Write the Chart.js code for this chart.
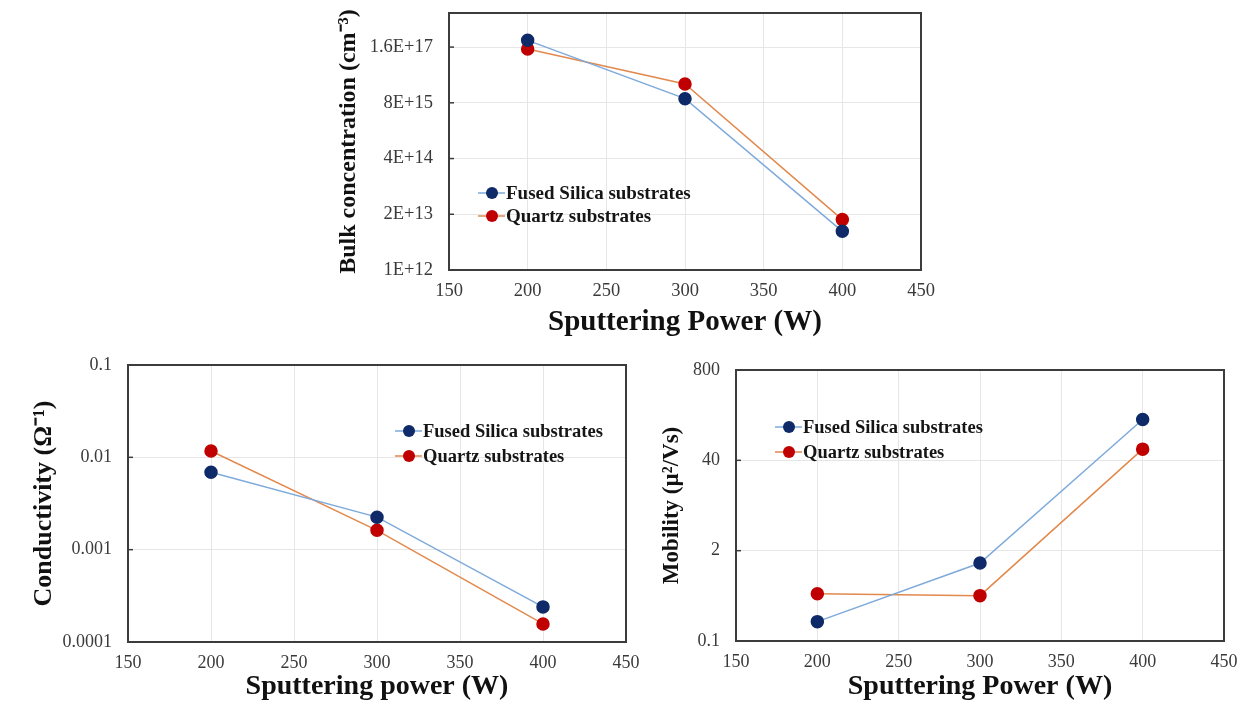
<!DOCTYPE html>
<html>
<head>
<meta charset="utf-8">
<script src="https://cdn.jsdelivr.net/npm/chart.js@4.4.1/dist/chart.umd.min.js"></script>
<style>
  body { margin: 0; background: #fff; width: 1248px; height: 702px; overflow: hidden; position: relative; }
  canvas { position: absolute; }
</style>
</head>
<body>
<canvas id="bulkChart" width="610" height="345" style="left:330px;top:0px"></canvas>
<canvas id="condChart" width="640" height="352" style="left:0px;top:350px"></canvas>
<canvas id="mobChart" width="608" height="352" style="left:640px;top:350px"></canvas>
<script>
// sputtering power (W)
const power = [200, 300, 400];
const powerTicks = [150, 200, 250, 300, 350, 400, 450];

// bulk concentration (cm^-3)
const bulkFused = [2.3e17, 1.0e16, 8e12];
const bulkQuartz = [1.45e17, 2.2e16, 1.5e13];
const bulkTicks = [1e12, 2e13, 4e14, 8e15, 1.6e17];
const bulkTickLabels = ['1E+12', '2E+13', '4E+14', '8E+15', '1.6E+17'];

// conductivity
const condFused = [0.0069, 0.00225, 0.00024];
const condQuartz = [0.0117, 0.00162, 0.000157];
const condTicks = [0.0001, 0.001, 0.01, 0.1];
const condTickLabels = ['0.0001', '0.001', '0.01', '0.1'];

// mobility
const mobFused = [0.19, 1.33, 155];
const mobQuartz = [0.48, 0.45, 58];
const mobTicks = [0.1, 2, 40, 800];
const mobTickLabels = ['0.1', '2', '40', '800'];

const serif = "'Liberation Serif', 'Times New Roman', serif";

// box round the plot + small inward ticks on y
const framePlugin = {
  id: 'frame',
  beforeDatasetsDraw(chart) {
    const { ctx, chartArea: a } = chart;
    const ys = chart.scales.y;
    ctx.save();
    ctx.strokeStyle = '#3c3c3c';
    ctx.lineWidth = 2;
    ctx.strokeRect(a.left, a.top, a.right - a.left, a.bottom - a.top);
    ctx.lineWidth = 1.5;
    ys.ticks.forEach(t => {
      const py = ys.getPixelForValue(t.value);
      ctx.beginPath();
      ctx.moveTo(a.left, py);
      ctx.lineTo(a.left + 5, py);
      ctx.stroke();
    });
    ctx.restore();
  }
};

// excel style legend inside the plot area
const insideLegend = {
  id: 'insideLegend',
  afterDatasetsDraw(chart, args, opts) {
    const { ctx, chartArea: a } = chart;
    chart.data.datasets.forEach((ds, i) => {
      const cx = a.left + opts.x;
      const cy = a.top + opts.y + i * opts.gap;
      ctx.save();
      ctx.strokeStyle = ds.borderColor;
      ctx.lineWidth = ds.borderWidth;
      ctx.beginPath();
      ctx.moveTo(cx - 14, cy);
      ctx.lineTo(cx + 13, cy);
      ctx.stroke();
      ctx.fillStyle = ds.pointBackgroundColor;
      ctx.beginPath();
      ctx.arc(cx, cy, ds.pointRadius, 0, Math.PI * 2);
      ctx.fill();
      ctx.fillStyle = '#151515';
      ctx.font = 'bold ' + opts.size + 'px ' + serif;
      ctx.textBaseline = 'middle';
      ctx.fillText(ds.label, cx + 14, cy + 1);
      ctx.restore();
    });
  }
};

function series(label, ys, line, dot) {
  return {
    label: label,
    data: power.map((p, i) => ({ x: p, y: ys[i] })),
    borderColor: line,
    backgroundColor: dot,
    pointBackgroundColor: dot,
    pointBorderColor: dot,
    pointRadius: 6,
    borderWidth: 1.5,
    tension: 0
  };
}

function noPad(sc) {
  sc.paddingTop = 0;
  sc.paddingBottom = 0;
  sc.paddingLeft = 0;
  sc.paddingRight = 0;
}

function makeChart(id, s) {
  return new Chart(document.getElementById(id), {
    type: 'line',
    data: {
      datasets: [
        series('Fused Silica substrates', s.fused, '#7eaadb', '#0f2a68'),
        series('Quartz substrates', s.quartz, '#e2894e', '#c00000')
      ]
    },
    options: {
      responsive: false,
      animation: false,
      devicePixelRatio: 1,
      layout: { padding: s.pad },
      plugins: {
        legend: { display: false },
        tooltip: { enabled: false },
        insideLegend: s.legend
      },
      scales: {
        x: {
          type: 'linear',
          min: 150,
          max: 450,
          afterBuildTicks: sc => { sc.ticks = powerTicks.map(v => ({ value: v })); },
          afterFit: sc => { sc.height = s.xh; noPad(sc); },
          grid: { color: '#e6e6e6', drawTicks: false },
          border: { display: false },
          ticks: { padding: 10, color: '#3a3a3a', font: { family: serif, size: s.tickSize } },
          title: {
            display: true,
            text: s.xTitle,
            color: '#111',
            padding: { top: 0, bottom: s.xTitlePad },
            font: { family: serif, size: s.xTitleSize, weight: 'bold', lineHeight: 1 }
          }
        },
        y: {
          type: 'logarithmic',
          min: s.min,
          max: s.max,
          afterBuildTicks: sc => { sc.ticks = s.ticks.map(v => ({ value: v })); },
          afterFit: sc => { sc.width = s.yw; noPad(sc); },
          grid: { color: '#e6e6e6', drawTicks: false },
          border: { display: false },
          ticks: {
            padding: 16,
            color: '#3a3a3a',
            font: { family: serif, size: s.tickSize },
            callback: (v, i) => s.tickLabels[i]
          },
          title: {
            display: true,
            text: s.yTitle,
            color: '#111',
            padding: { top: s.yTitlePad, bottom: 0 },
            font: { family: serif, size: s.yTitleSize, weight: 'bold', lineHeight: 1 }
          }
        }
      }
    },
    plugins: [framePlugin, insideLegend]
  });
}

makeChart('bulkChart', {
  fused: bulkFused, quartz: bulkQuartz,
  min: 1e12, max: 1e18, ticks: bulkTicks, tickLabels: bulkTickLabels,
  pad: { left: 0, top: 13, right: 19, bottom: 0 },
  yw: 119, xh: 75, tickSize: 18.5,
  xTitle: 'Sputtering Power (W)', xTitleSize: 29, xTitlePad: 8,
  yTitle: 'Bulk concentration (cm\u207B\u00B3)', yTitleSize: 24, yTitlePad: 7,
  legend: { x: 43, y: 180, gap: 23, size: 19 }
});

makeChart('condChart', {
  fused: condFused, quartz: condQuartz,
  min: 0.0001, max: 0.1, ticks: condTicks, tickLabels: condTickLabels,
  pad: { left: 0, top: 15, right: 14, bottom: 0 },
  yw: 128, xh: 60, tickSize: 18,
  xTitle: 'Sputtering power (W)', xTitleSize: 28, xTitlePad: 1,
  yTitle: 'Conductivity (\u03A9\u207B\u00B9)', yTitleSize: 26, yTitlePad: 31,
  legend: { x: 281, y: 66, gap: 25, size: 18.5 }
});

makeChart('mobChart', {
  fused: mobFused, quartz: mobQuartz,
  min: 0.1, max: 800, ticks: mobTicks, tickLabels: mobTickLabels,
  pad: { left: 0, top: 20, right: 24, bottom: 0 },
  yw: 96, xh: 61, tickSize: 18,
  xTitle: 'Sputtering Power (W)', xTitleSize: 28, xTitlePad: 1,
  yTitle: 'Mobility (\u00B5\u00B2/Vs)', yTitleSize: 23, yTitlePad: 21,
  legend: { x: 53, y: 57, gap: 25, size: 18.5 }
});
</script>
</body>
</html>
